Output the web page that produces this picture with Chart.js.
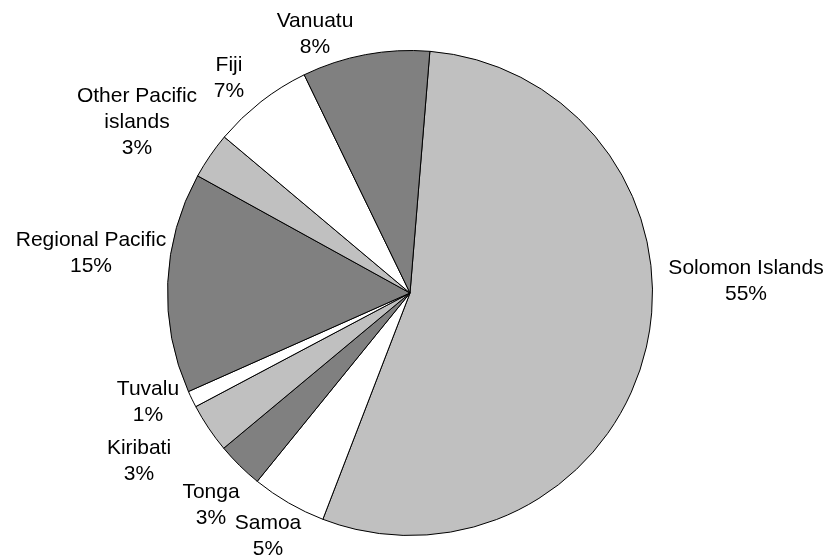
<!DOCTYPE html>
<html>
<head>
<meta charset="utf-8">
<script src="https://cdn.jsdelivr.net/npm/chart.js@4/dist/chart.umd.min.js"></script>
<style>
  html, body { margin: 0; padding: 0; background: #fff; }
  #wrap { width: 827px; height: 559px; position: relative; }
</style>
</head>
<body>
<div id="wrap"><canvas id="aidChart"></canvas></div>
<script>
// Data, clockwise from the top
const categories = ['Solomon Islands', 'Samoa', 'Tonga', 'Kiribati', 'Tuvalu',
                    'Regional Pacific', 'Other Pacific islands', 'Fiji', 'Vanuatu'];
const shares = [54.6, 5.0, 3.1, 3.3, 1.1, 14.7, 3.1, 6.7, 8.5];

// Label text lines (how the category names wrap)
const labelLines = [['Solomon Islands'], ['Samoa'], ['Tonga'], ['Kiribati'], ['Tuvalu'],
                    ['Regional Pacific'], ['Other Pacific', 'islands'], ['Fiji'], ['Vanuatu']];

// Styling
const sliceColors = ['#c0c0c0', '#ffffff', '#808080', '#c0c0c0', '#ffffff',
                     '#808080', '#c0c0c0', '#ffffff', '#808080'];
// label block centre, relative to the pie centre
const labelOffsets = [[336, -12], [-142, 243], [-199, 212], [-271, 168], [-262, 109],
                      [-319, -40], [-273, -171], [-181, -215], [-95, -259]];

const total = shares.reduce((a, b) => a + b, 0);

// Draw the outside labels
const pieLabels = {
    id: 'pieLabels',
    afterDraw(chart) {
        const ctx = chart.ctx;
        const arcs = chart.getDatasetMeta(0).data;
        ctx.save();
        ctx.font = '21px "Liberation Sans", Arial, sans-serif';
        ctx.fillStyle = '#000';
        ctx.textAlign = 'center';
        ctx.textBaseline = 'middle';
        const lineH = 26;
        arcs.forEach((arc, i) => {
            const lines = labelLines[i].concat([Math.round(shares[i] / total * 100) + '%']);
            const cx = arc.x + labelOffsets[i][0];
            const cy = arc.y + labelOffsets[i][1];
            const top = cy - (lines.length - 1) * lineH / 2;
            lines.forEach((t, j) => ctx.fillText(t, cx, top + j * lineH));
        });
        ctx.restore();
    }
};

new Chart(document.getElementById('aidChart'), {
    type: 'pie',
    data: {
        labels: categories,
        datasets: [{
            data: shares,
            backgroundColor: sliceColors,
            borderColor: '#000',
            borderWidth: 1,
            hoverOffset: 0,
            offset: 0
        }]
    },
    options: {
        responsive: true,
        maintainAspectRatio: false,
        animation: false,
        rotation: 4.7,
        layout: { padding: { top: 50, bottom: 23, left: 167, right: 174 } },
        plugins: {
            legend: { display: false },
            tooltip: { enabled: false }
        }
    },
    plugins: [pieLabels]
});
</script>
</body>
</html>
